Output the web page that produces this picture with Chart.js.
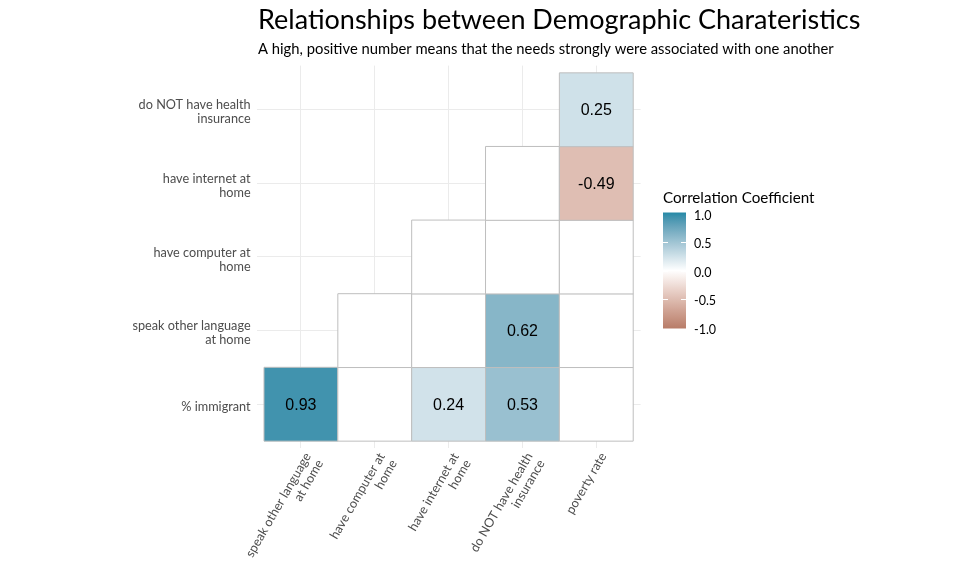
<!DOCTYPE html>
<html>
<head>
<meta charset="utf-8">
<script src="https://cdn.jsdelivr.net/npm/chart.js@4.4.1/dist/chart.umd.min.js"></script>
<style>
  html, body { margin: 0; padding: 0; background: #fff; }
  #wrap { width: 960px; height: 576px; position: relative; }
</style>
</head>
<body>
<div id="wrap"><canvas id="charts"></canvas></div>
<script>
const colLabels = [
  ['speak other language', 'at home'],
  ['have computer at', 'home'],
  ['have internet at', 'home'],
  ['do NOT have health', 'insurance'],
  ['poverty rate']
];
const rowLabels = [
  ['% immigrant'],
  ['speak other language', 'at home'],
  ['have computer at', 'home'],
  ['have internet at', 'home'],
  ['do NOT have health', 'insurance']
];

// lower triangle: row i starts at column i, null = blank tile (not significant)
const rowImmigrant = [0.93, null, 0.24, 0.53, null];
const rowLanguage = [null, null, 0.62, null];
const rowComputer = [null, null, null];
const rowInternet = [null, -0.49];
const rowInsurance = [0.25];

const legendTicks = [1.0, 0.5, 0.0, -0.5, -1.0];

const titleText = 'Relationships between Demographic Charateristics';
const subtitleText = 'A high, positive number means that the needs strongly were associated with one another';
const legendTitle = 'Correlation Coefficient';

const lowColor = [185, 126, 106];
const highColor = [42, 139, 168];
const textFont = 'Lato, "Open Sans", sans-serif';

// colour ramp in Lab space, like ggplot's gradient2
function toLinear(c) { c /= 255; return c <= 0.04045 ? c / 12.92 : Math.pow((c + 0.055) / 1.055, 2.4); }
function fromLinear(c) {
  c = c <= 0.0031308 ? 12.92 * c : 1.055 * Math.pow(c, 1 / 2.4) - 0.055;
  return Math.round(Math.min(1, Math.max(0, c)) * 255);
}
function rgb2lab(rgb) {
  const r = toLinear(rgb[0]), g = toLinear(rgb[1]), b = toLinear(rgb[2]);
  let x = (r * 0.4124 + g * 0.3576 + b * 0.1805) / 0.95047;
  let y = (r * 0.2126 + g * 0.7152 + b * 0.0722);
  let z = (r * 0.0193 + g * 0.1192 + b * 0.9505) / 1.08883;
  const f = t => t > 0.008856 ? Math.cbrt(t) : 7.787 * t + 16 / 116;
  x = f(x); y = f(y); z = f(z);
  return [116 * y - 16, 500 * (x - y), 200 * (y - z)];
}
function lab2rgb(lab) {
  let y = (lab[0] + 16) / 116, x = lab[1] / 500 + y, z = y - lab[2] / 200;
  const fi = t => t * t * t > 0.008856 ? t * t * t : (t - 16 / 116) / 7.787;
  x = fi(x) * 0.95047; y = fi(y); z = fi(z) * 1.08883;
  const r = x * 3.2406 + y * -1.5372 + z * -0.4986;
  const g = x * -0.9689 + y * 1.8758 + z * 0.0415;
  const b = x * 0.0557 + y * -0.2040 + z * 1.0570;
  return [fromLinear(r), fromLinear(g), fromLinear(b)];
}
const labWhite = rgb2lab([255, 255, 255]);
const labLow = rgb2lab(lowColor);
const labHigh = rgb2lab(highColor);

function corrColor(v) {
  if (v === null || v === undefined) return '#FFFFFF';
  const t = Math.min(1, Math.abs(v));
  const end = v >= 0 ? labHigh : labLow;
  const lab = [0, 1, 2].map(i => labWhite[i] + (end[i] - labWhite[i]) * t);
  const c = lab2rgb(lab);
  return 'rgb(' + c[0] + ',' + c[1] + ',' + c[2] + ')';
}

const rows = [rowImmigrant, rowLanguage, rowComputer, rowInternet, rowInsurance];
let tiles = [];
for (let r = 0; r < rows.length; r++) {
  for (let k = 0; k < rows[r].length; k++) {
    tiles.push({ x: r + k + 1, y: r + 1, v: rows[r][k] });
  }
}

function tileRadius(ctx) {
  const xs = ctx.chart.scales.x;
  if (!xs) return 0;
  const w = Math.abs(xs.getPixelForValue(1) - xs.getPixelForValue(0));
  return w / Math.SQRT2;
}

const tileLabels = {
  id: 'tileLabels',
  afterDatasetsDraw(chart) {
    const ctx = chart.ctx;
    const meta = chart.getDatasetMeta(0);
    ctx.save();
    ctx.font = '16px "Liberation Sans", Arial, sans-serif';
    ctx.fillStyle = '#000';
    ctx.textAlign = 'center';
    ctx.textBaseline = 'middle';
    meta.data.forEach((el, i) => {
      const v = tiles[i].v;
      if (v === null) return;
      ctx.fillText(v.toFixed(2), el.x, el.y + 1);
    });
    ctx.restore();
  }
};

const headings = {
  id: 'headings',
  afterDraw(chart) {
    const ctx = chart.ctx;
    ctx.save();
    ctx.fillStyle = '#000';
    ctx.textAlign = 'left';
    ctx.textBaseline = 'alphabetic';
    ctx.font = '27px ' + textFont;
    ctx.fillText(titleText, 258, 29);
    ctx.font = '14.8px ' + textFont;
    ctx.fillText(subtitleText, 258, 54);
    ctx.restore();
  }
};

const colorbar = {
  id: 'colorbar',
  afterDraw(chart) {
    const ctx = chart.ctx;
    const left = 663, w = 23, mid = 270.5, unit = 57;
    const top = mid - unit, bottom = mid + unit;
    ctx.save();
    const grad = ctx.createLinearGradient(0, top, 0, bottom);
    for (let i = 0; i <= 40; i++) {
      grad.addColorStop(i / 40, corrColor(1 - i / 20));
    }
    ctx.fillStyle = grad;
    ctx.fillRect(left, top - 1, w, bottom - top + 2);
    ctx.strokeStyle = '#FFFFFF';
    ctx.lineWidth = 1;
    ctx.font = '12.5px ' + textFont;
    ctx.fillStyle = '#000';
    ctx.textAlign = 'left';
    ctx.textBaseline = 'middle';
    legendTicks.forEach(v => {
      const y = Math.round(mid - v * unit) + 0.5;
      if (Math.abs(v) < 1) {
        ctx.beginPath();
        ctx.moveTo(left, y); ctx.lineTo(left + 5, y);
        ctx.moveTo(left + w - 5, y); ctx.lineTo(left + w, y);
        ctx.stroke();
      }
      ctx.fillText(v.toFixed(1), left + 31, y + 1);
    });
    ctx.font = '15.2px ' + textFont;
    ctx.textBaseline = 'alphabetic';
    ctx.fillText(legendTitle, left, 203);
    ctx.restore();
  }
};

function axisOptions(labels, isX) {
  return {
    type: 'linear',
    min: 0.4,
    max: 5.6,
    afterBuildTicks: scale => { scale.ticks = labels.map((_, i) => ({ value: i + 1 })); },
    afterFit: scale => {
      if (isX) scale.height = 127.6; else scale.width = 256.6;
    },
    grid: { color: '#EBEBEB', lineWidth: 1, drawTicks: false },
    border: { display: false },
    ticks: {
      autoSkip: false,
      maxRotation: isX ? 60 : 0,
      minRotation: isX ? 60 : 0,
      padding: isX ? 2 : 6,
      labelOffset: isX ? 7 : 2.5,
      color: '#4D4D4D',
      font: { family: textFont, size: 12.7, lineHeight: 1.1 },
      callback: value => labels[Math.round(value) - 1]
    }
  };
}

new Chart(document.getElementById('charts'), {
  type: 'scatter',
  data: {
    datasets: [{
      label: 'correlation',
      data: tiles,
      pointStyle: 'rect',
      radius: tileRadius,
      hoverRadius: tileRadius,
      backgroundColor: tiles.map(t => corrColor(t.v)),
      hoverBackgroundColor: tiles.map(t => corrColor(t.v)),
      borderColor: '#BEBEBE',
      hoverBorderColor: '#BEBEBE',
      borderWidth: 1,
      hoverBorderWidth: 1
    }]
  },
  options: {
    responsive: true,
    maintainAspectRatio: false,
    animation: false,
    events: [],
    layout: { padding: { left: 0, right: 319.4, top: 65.6, bottom: 0 } },
    scales: {
      x: axisOptions(colLabels, true),
      y: axisOptions(rowLabels, false)
    },
    plugins: {
      legend: { display: false },
      tooltip: { enabled: false }
    }
  },
  plugins: [tileLabels, headings, colorbar]
});
</script>
</body>
</html>
